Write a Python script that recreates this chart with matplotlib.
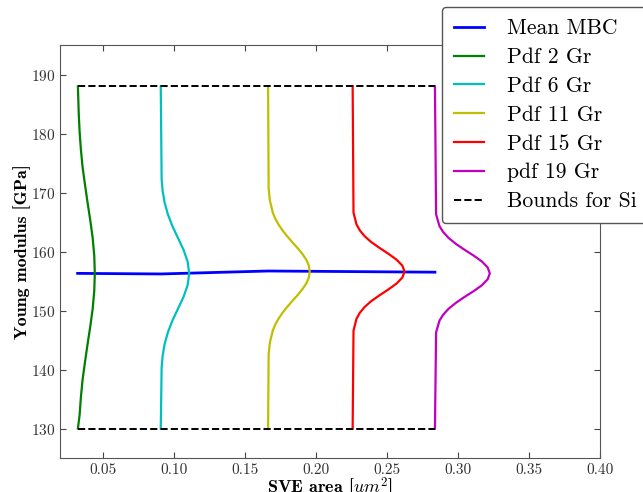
import matplotlib

matplotlib.use("Agg")
import matplotlib.pyplot as plt

plt.rcParams["font.family"] = "serif"
plt.rcParams["font.serif"] = ["cmr10", "DejaVu Serif"]
plt.rcParams["mathtext.fontset"] = "cm"
plt.rcParams["axes.unicode_minus"] = False
plt.rcParams["axes.formatter.use_mathtext"] = True

# mean MBC over SVE sizes
sve_area = [0.0324, 0.0909, 0.1664, 0.2259, 0.2838]
mean_mbc = [156.3, 156.2, 156.7, 156.6, 156.5]

# bounds for Si
bound_lo = 130
bound_hi = 188

# pdf curves (modulus on y, plotted position on x)
pdf2_y = [130, 132.3, 135.3, 138.3, 141.3, 144.3, 147.3, 150.3, 153.3, 156.3,
          159.3, 162.3, 165.3, 168.3, 171.3, 174.3, 177.3, 180.3, 183.3, 188]
pdf2_x = [0.0326, 0.0338, 0.0347, 0.0359, 0.0376, 0.0394, 0.0413, 0.0430, 0.0441, 0.0445,
          0.0441, 0.0430, 0.0413, 0.0394, 0.0376, 0.0359, 0.0347, 0.0338, 0.0332, 0.0326]

pdf6_y = [130, 140.3, 142.3, 144.3, 146.3, 148.3, 150.3, 152.3, 154.3, 156.3,
          158.3, 160.3, 162.3, 164.3, 166.3, 168.3, 170.3, 172.3, 188]
pdf6_x = [0.0909, 0.0915, 0.0922, 0.0936, 0.0959, 0.0991, 0.1030, 0.1069, 0.1098, 0.1109,
          0.1098, 0.1069, 0.1030, 0.0991, 0.0959, 0.0936, 0.0922, 0.0915, 0.0909]

pdf11_y = [130, 142.6, 144.6, 146.6, 147.6, 148.6, 149.6, 150.6, 151.6, 152.6, 153.6,
           154.6, 155.6, 156.6, 157.6, 158.6, 159.6, 160.6, 161.6, 162.6, 163.6,
           164.6, 165.6, 166.6, 168.6, 170.6, 188]
pdf11_x = [0.1664, 0.1668, 0.1677, 0.1697, 0.1714, 0.1737, 0.1765, 0.1798, 0.1834, 0.1871, 0.1905,
           0.1933, 0.1951, 0.1957, 0.1951, 0.1933, 0.1905, 0.1871, 0.1834, 0.1798, 0.1765,
           0.1737, 0.1714, 0.1697, 0.1677, 0.1668, 0.1664]

pdf15_y = [130, 146.6, 148.6, 149.6, 150.6, 151.6, 152.6, 153.6, 154.6, 155.6, 156.6,
           157.6, 158.6, 159.6, 160.6, 161.6, 162.6, 163.6, 164.6, 166.6, 188]
pdf15_x = [0.2259, 0.2265, 0.2286, 0.2309, 0.2343, 0.2390, 0.2449, 0.2512, 0.2569, 0.2609, 0.2624,
           0.2609, 0.2569, 0.2512, 0.2449, 0.2390, 0.2343, 0.2309, 0.2286, 0.2265, 0.2259]

pdf19_y = [130, 146.3, 148.3, 149.3, 150.3, 151.3, 152.3, 153.3, 154.3, 155.3, 156.3,
           157.3, 158.3, 159.3, 160.3, 161.3, 162.3, 163.3, 164.3, 166.3, 188]
pdf19_x = [0.2838, 0.2846, 0.2870, 0.2896, 0.2934, 0.2985, 0.3046, 0.3111, 0.3169, 0.3209, 0.3224,
           0.3209, 0.3169, 0.3111, 0.3046, 0.2985, 0.2934, 0.2896, 0.2870, 0.2846, 0.2838]

fig = plt.figure(figsize=(6.43, 4.92), dpi=100)
ax = fig.add_axes([0.0933, 0.069, 0.84, 0.8395])

ax.plot(sve_area, mean_mbc, color="b", lw=2, label="Mean MBC")
ax.plot(pdf2_x, pdf2_y, color="g", lw=1.6, label="Pdf 2 Gr")
ax.plot(pdf6_x, pdf6_y, color="c", lw=1.6, label="Pdf 6 Gr")
ax.plot(pdf11_x, pdf11_y, color="y", lw=1.6, label="Pdf 11 Gr")
ax.plot(pdf15_x, pdf15_y, color="r", lw=1.6, label="Pdf 15 Gr")
ax.plot(pdf19_x, pdf19_y, color="m", lw=1.6, label="pdf 19 Gr")
x_ends = [sve_area[0], sve_area[-1]]
ax.plot(x_ends, [bound_lo, bound_lo], "k--", lw=1.4, label="Bounds for Si")
ax.plot(x_ends, [bound_hi, bound_hi], "k--", lw=1.4)

ax.set_xlim(0.02, 0.40)
ax.set_ylim(125, 195)
ax.set_xticks([0.05, 0.10, 0.15, 0.20, 0.25, 0.30, 0.35, 0.40])
ax.set_xticklabels(["0.05", "0.10", "0.15", "0.20", "0.25", "0.30", "0.35", "0.40"])
ax.set_yticks([130, 140, 150, 160, 170, 180, 190])
ax.tick_params(direction="in", top=True, right=True, labelsize=11, colors="#444444",
               labelcolor="#333333", length=4)
for sp in ax.spines.values():
    sp.set_color("#555555")

ax.set_xlabel(r"SVE area [$um^2$]", fontsize=13, family="cmb10", labelpad=-1)
ax.set_ylabel("Young modulus [GPa]", fontsize=13, family="cmb10", labelpad=0)

ax.legend(loc="upper left", bbox_to_anchor=(0.687, 0.986), bbox_transform=fig.transFigure,
          fontsize=15.6, handlelength=1.4, handletextpad=1.05, labelspacing=0.43,
          borderpad=0.55, borderaxespad=0,
          fancybox=True, edgecolor="#555555", framealpha=1)

fig.savefig("out.png", dpi=100)
plt.close()
